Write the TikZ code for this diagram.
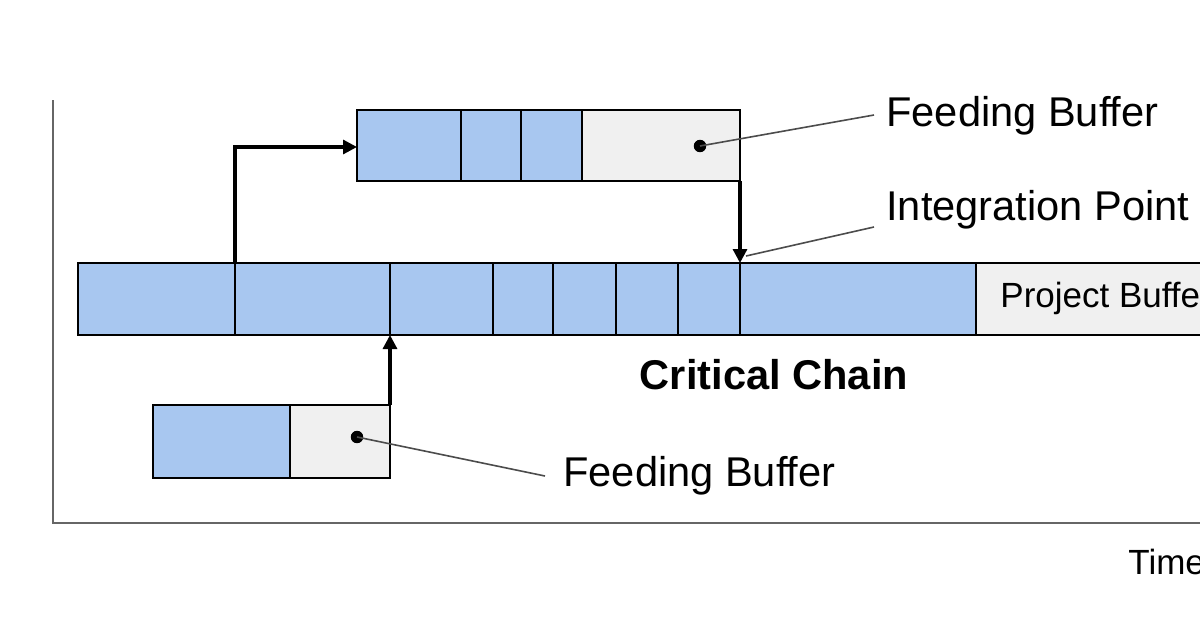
\documentclass[tikz,border=0pt]{standalone}
\usepackage{fontspec}
\setmainfont{Liberation Sans}
\usetikzlibrary{arrows.meta}
\definecolor{bl}{RGB}{168,199,240}
\definecolor{gr}{RGB}{240,240,240}
\begin{document}
\begin{tikzpicture}[x=0.5pt,y=-0.5pt,
  cell/.style={draw=black,line width=1.2pt,fill=bl},
  buf/.style={draw=black,line width=1.2pt,fill=gr},
  arr/.style={line width=1.6pt,-{Triangle[length=7pt,width=7pt]}},
  lead/.style={draw=black!70,line width=0.8pt},
  lbl/.style={font=\fontsize{20.8}{24}\selectfont,anchor=west,inner sep=0pt},
  dot/.style={circle,fill=black,inner sep=2.2pt}]
\useasboundingbox (0,0) rectangle (1200,627);
\draw[black!60,line width=0.8pt] (53,100) -- (53,523) -- (1200,523);
% top feeding chain
\foreach \a/\b in {357/461,461/521,521/582}{\draw[cell] (\a,110) rectangle (\b,181);}
\draw[buf] (582,110) rectangle (740,181);
% critical chain
\foreach \a/\b in {78/235,235/390,390/493,493/553,553/616,616/678,678/740,740/976}{\draw[cell] (\a,263) rectangle (\b,335);}
\draw[buf] (976,263) rectangle (1230,335);
\node[lbl,font=\fontsize{17.5}{20}\selectfont] (pb) at (1000,298) {Project Buffer};
% bottom feeding chain
\draw[cell] (153,405) rectangle (290,478);
\draw[buf] (290,405) rectangle (390,478);
% coordinates
\coordinate (s1) at (235,263); \coordinate (t1) at (357,147);
\coordinate (s2) at (740,181); \coordinate (t2) at (740,263);
\coordinate (s3) at (390,405); \coordinate (t3) at (390,335);
\draw[arr] (s1) |- (t1);
\draw[arr] (s2) -- (t2);
\draw[arr] (s3) -- (t3);
% labels
\node[dot] (d1) at (700,146) {};
\node[dot] (d2) at (357,437) {};
\node[lbl] (fb1) at (886,116) {Feeding Buffer};
\node[lbl] (ip) at (886,210) {Integration Point};
\node[lbl] (fb2) at (563,476) {Feeding Buffer};
\node[font=\fontsize{20.8}{24}\selectfont\bfseries,inner sep=0pt] (cc) at (774,375) {Critical Chain};
\node[lbl,font=\fontsize{17.5}{20}\selectfont] (tm) at (1128,562) {Time};
\coordinate (ipt) at (746,256);
\coordinate (e1) at (874,115);
\coordinate (e2) at (874,227);
\coordinate (e3) at (545,476);
\draw[lead] (d1.center) -- (e1);
\draw[lead] (ipt) -- (e2);
\draw[lead] (d2.center) -- (e3);
\end{tikzpicture}
\end{document}
